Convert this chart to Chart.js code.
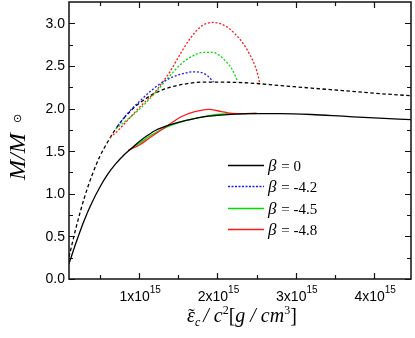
<!DOCTYPE html>
<html>
<head>
<meta charset="utf-8">
<script src="https://cdn.jsdelivr.net/npm/chart.js@4.4.1/dist/chart.umd.min.js"></script>
<style>
    html, body { margin: 0; padding: 0; background: #fff; }
    canvas { display: block; }
</style>
</head>
<body>
<canvas id="graph" width="415" height="338"></canvas>
<script>
// x values are in units of 1e15 g/cm^3
const xMajorTicks = [1, 2, 3, 4]
const xMinorTicks = [0.5, 1.5, 2.5, 3.5]
const yMajorTicks = [0, 0.5, 1, 1.5, 2, 2.5, 3]
const yMinorTicks = [0.25, 0.75, 1.25, 1.75, 2.25, 2.75]

const legendLabels = ["0", "-4.2", "-4.5", "-4.8"]

// beta = 0, lower branch (solid black)
const solidBlackX = [0.105, 0.2, 0.3, 0.4, 0.5, 0.6, 0.7, 0.8, 0.9, 1.0, 1.1, 1.2, 1.3, 1.4, 1.6, 1.8, 2.0, 2.4, 2.8, 3.2, 3.6, 4.0, 4.47]
const solidBlackY = [0.18, 0.44, 0.69, 0.90, 1.08, 1.23, 1.35, 1.45, 1.53, 1.61, 1.68, 1.74, 1.78, 1.81, 1.86, 1.90, 1.92, 1.94, 1.94, 1.93, 1.91, 1.89, 1.87]

// beta = 0, upper branch (dashed black)
const dashBlackX = [0.105, 0.2, 0.3, 0.4, 0.5, 0.6, 0.7, 0.8, 0.9, 1.0, 1.2, 1.4, 1.6, 1.8, 2.0, 2.4, 2.8, 3.2, 3.6, 4.0, 4.47]
const dashBlackY = [0.26, 0.62, 0.95, 1.22, 1.44, 1.61, 1.76, 1.88, 1.98, 2.06, 2.18, 2.25, 2.29, 2.31, 2.31, 2.30, 2.27, 2.24, 2.21, 2.18, 2.15]

// beta = -4.2 upper
const blueUpX = [0.73, 0.85, 1.0, 1.18, 1.3, 1.43, 1.56, 1.69, 1.8, 1.88, 1.95]
const blueUpY = [1.80, 1.94, 2.08, 2.23, 2.31, 2.37, 2.41, 2.43, 2.42, 2.38, 2.31]

// beta = -4.5 upper / lower
const greenUpX = [0.70, 0.85, 0.99, 1.1, 1.22, 1.37, 1.52, 1.67, 1.82, 1.93, 2.03, 2.12, 2.18, 2.23, 2.26]
const greenUpY = [1.76, 1.87, 1.98, 2.08, 2.20, 2.36, 2.51, 2.61, 2.66, 2.66, 2.62, 2.54, 2.47, 2.38, 2.31]
const greenLowX = [0.88, 1.0, 1.14, 1.3, 1.43, 1.6, 1.8, 2.0, 2.2, 2.5]
const greenLowY = [1.52, 1.59, 1.68, 1.76, 1.81, 1.86, 1.90, 1.93, 1.94, 1.94]

// beta = -4.8 upper / lower
const redUpX = [0.63, 0.75, 0.88, 1.0, 1.1, 1.2, 1.3, 1.4, 1.5, 1.65, 1.8, 1.95, 2.1, 2.22, 2.33, 2.42, 2.48, 2.52, 2.54]
const redUpY = [1.66, 1.76, 1.89, 2.01, 2.10, 2.19, 2.31, 2.44, 2.60, 2.82, 2.97, 3.01, 2.97, 2.88, 2.76, 2.62, 2.50, 2.38, 2.29]
const redLowX = [0.86, 1.0, 1.14, 1.3, 1.41, 1.55, 1.7, 1.88, 2.05, 2.16, 2.3, 2.5]
const redLowY = [1.51, 1.57, 1.66, 1.76, 1.83, 1.91, 1.96, 1.99, 1.965, 1.945, 1.94, 1.945]

const BLUE = "#1a1aff"
const GREEN = "#00dd00"
const RED = "#ff1a1a"

const pts = (xs, ys) => xs.map((x, i) => ({ x: x, y: ys[i] }))

const line = (label, xs, ys, color, dash, order) => ({
    label: label,
    data: pts(xs, ys),
    borderColor: color,
    borderWidth: 1.3,
    borderDash: dash,
    pointRadius: 0,
    fill: false,
    cubicInterpolationMode: "monotone",
    order: order
})

const sans = "'Liberation Sans', Arial, sans-serif"
const serif = "'Liberation Serif', 'Times New Roman', serif"

// draw a run of text pieces with their own fonts and offsets
function drawRuns(ctx, runs, x, y) {
    runs.forEach(r => {
        ctx.font = r.font
        ctx.fillText(r.text, x, y + (r.dy || 0))
        x += ctx.measureText(r.text).width + (r.gap || 0)
    })
    return x
}
function runsWidth(ctx, runs) {
    let w = 0
    runs.forEach(r => { ctx.font = r.font; w += ctx.measureText(r.text).width + (r.gap || 0) })
    return w
}

const framePlugin = {
    id: "frame",
    afterDraw(chart) {
        const ctx = chart.ctx
        const ca = chart.chartArea
        const xs = chart.scales.x
        const ys = chart.scales.y
        ctx.save()
        ctx.strokeStyle = "#111"
        ctx.lineWidth = 1.5
        ctx.strokeRect(ca.left, ca.top, ca.right - ca.left, ca.bottom - ca.top)

        // inward ticks on all four sides
        ctx.lineWidth = 1.2
        ctx.beginPath()
        const xt = (v, len) => {
            const p = Math.round(xs.getPixelForValue(v)) + 0.5
            ctx.moveTo(p, ca.bottom); ctx.lineTo(p, ca.bottom - len)
            ctx.moveTo(p, ca.top); ctx.lineTo(p, ca.top + len)
        }
        const yt = (v, len) => {
            const p = Math.round(ys.getPixelForValue(v)) + 0.5
            ctx.moveTo(ca.left, p); ctx.lineTo(ca.left + len, p)
            ctx.moveTo(ca.right, p); ctx.lineTo(ca.right - len, p)
        }
        xMajorTicks.forEach(v => xt(v, 6))
        xMinorTicks.forEach(v => xt(v, 4))
        yMajorTicks.forEach(v => yt(v, 6))
        yMinorTicks.forEach(v => yt(v, 4))
        ctx.stroke()

        ctx.fillStyle = "#000"

        // y tick labels
        ctx.font = "14px " + sans
        ctx.textAlign = "right"
        ctx.textBaseline = "middle"
        yMajorTicks.forEach(v => {
            ctx.fillText(v.toFixed(1), ca.left - 4, ys.getPixelForValue(v) + 0.5)
        })

        // x tick labels with superscript exponent
        ctx.textBaseline = "alphabetic"
        ctx.textAlign = "left"
        xMajorTicks.forEach(v => {
            const runs = [
                { text: v + "x10", font: "14px " + sans },
                { text: "15", font: "10px " + sans, dy: -8 }
            ]
            const w = runsWidth(ctx, runs)
            drawRuns(ctx, runs, xs.getPixelForValue(v) - w / 2 + 1, 301)
        })

        // x axis title
        const it = "italic 20px " + serif
        const up = "20px " + serif
        const sm = "italic 12px " + serif
        const xRuns = [
            { text: "\u03b5", font: it },
            { text: "c", font: sm, dy: 4, gap: 3 },
            { text: "/ ", font: it },
            { text: "c", font: it },
            { text: "2", font: "12px " + serif, dy: -8 },
            { text: "[", font: up },
            { text: "g", font: it },
            { text: " / ", font: it },
            { text: "cm", font: it },
            { text: "3", font: "12px " + serif, dy: -8 },
            { text: "]", font: up }
        ]
        const x0 = 187
        drawRuns(ctx, xRuns, x0, 322)
        ctx.font = "20px " + serif
        ctx.fillText("\u02dc", x0 + 1, 323)

        // y axis title, rotated
        ctx.save()
        ctx.translate(25, 180)
        ctx.rotate(-Math.PI / 2)
        ctx.font = "italic 24px " + serif
        ctx.fillText("M/M", 0, 0)
        ctx.font = "11px " + serif
        ctx.textAlign = "center"
        ctx.textBaseline = "middle"
        ctx.fillText("\u2299", 62, -7)
        ctx.restore()

        // legend
        const rows = [164.5, 186, 207.5, 229]
        const ds = chart.data.datasets
        const legendSets = [ds[0], ds[2], ds[3], ds[5]]
        legendSets.forEach((d, i) => {
            const yy = Math.round(rows[i]) + 0.5
            ctx.strokeStyle = d.borderColor
            ctx.lineWidth = 1.6
            ctx.setLineDash(i === 1 ? [2, 1.5] : [])
            ctx.beginPath()
            ctx.moveTo(228, yy); ctx.lineTo(264, yy)
            ctx.stroke()
            ctx.setLineDash([])
            ctx.fillStyle = "#000"
            ctx.textAlign = "left"
            ctx.textBaseline = "alphabetic"
            drawRuns(ctx, [
                { text: "\u03b2", font: "italic 17px " + serif, gap: 1 },
                { text: " = " + legendLabels[i], font: "15px " + serif }
            ], 268, yy + 5.5)
        })
        ctx.restore()
    }
}

new Chart(document.getElementById("graph"), {
    type: "line",
    data: {
        datasets: [
            line("\u03b2 = 0", solidBlackX, solidBlackY, "#000", [], 1),
            line("\u03b2 = 0 (upper)", dashBlackX, dashBlackY, "#000", [3.5, 2.5], 5),
            line("\u03b2 = -4.2", blueUpX, blueUpY, BLUE, [2, 1.8], 4),
            line("\u03b2 = -4.5", greenLowX, greenLowY, GREEN, [], 3),
            line("\u03b2 = -4.5 (upper)", greenUpX, greenUpY, GREEN, [2, 1.8], 4),
            line("\u03b2 = -4.8", redLowX, redLowY, RED, [], 2),
            line("\u03b2 = -4.8 (upper)", redUpX, redUpY, RED, [2, 1.8], 4)
        ]
    },
    options: {
        responsive: false,
        animation: false,
        devicePixelRatio: 1,
        layout: { padding: { top: 2, right: 4, left: 0, bottom: 0 } },
        plugins: {
            legend: { display: false },
            tooltip: { enabled: false }
        },
        scales: {
            x: {
                type: "linear",
                min: 0.105,
                max: 4.47,
                grid: { display: false },
                border: { display: false },
                ticks: { display: false },
                afterFit: s => { s.height = 59 }
            },
            y: {
                type: "linear",
                min: 0,
                max: 3.25,
                grid: { display: false },
                border: { display: false },
                ticks: { display: false },
                afterFit: s => { s.width = 69 }
            }
        }
    },
    plugins: [framePlugin]
})
</script>
</body>
</html>
